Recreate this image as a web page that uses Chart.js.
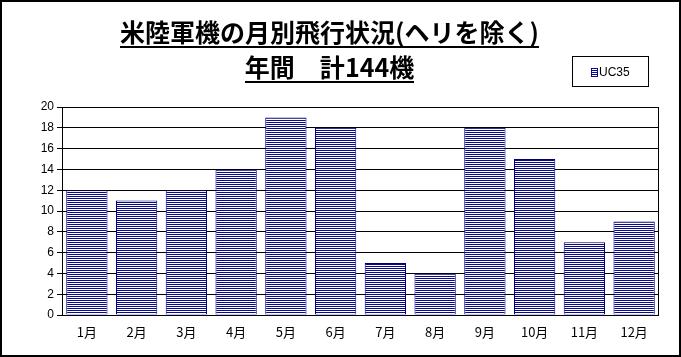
<!DOCTYPE html>
<html><head><meta charset="utf-8">
<script src="https://cdn.jsdelivr.net/npm/chart.js@4/dist/chart.umd.min.js"></script>
<style>html,body{margin:0;padding:0;background:#fff;}#wrap{width:681px;height:357px;}</style>
</head><body><div id="wrap"><canvas id="c" width="681" height="357"></canvas></div>
<script>
const categories = ['1月','2月','3月','4月','5月','6月','7月','8月','9月','10月','11月','12月'];
const seriesName = 'UC35';
const uc35 = [12, 11, 12, 14, 19, 18, 5, 4, 18, 15, 7, 9];
const titleLines = ['米陸軍機の月別飛行状況(ヘリを除く)', '年間　計144機'];
const yTicks = [0, 2, 4, 6, 8, 10, 12, 14, 16, 18, 20];

function stripes(){
  const p = document.createElement('canvas'); p.width = 2; p.height = 2;
  const g = p.getContext('2d');
  g.fillStyle = '#ffffff'; g.fillRect(0,0,2,2);
  g.fillStyle = '#0a0a90'; g.fillRect(0,0,2,1);
  return g.createPattern(p, 'repeat');
}
const pat = stripes();
const TITLE_FONT = {family: '"Noto Sans CJK JP", sans-serif', size: 25, weight: 'bold', lineHeight: 1.4};

const decor = {
  id: 'decor',
  afterDraw(chart){
    const ctx = chart.ctx, a = chart.chartArea;
    ctx.save();
    ctx.strokeStyle = '#000'; ctx.lineWidth = 1;
    ctx.strokeRect(Math.round(a.left)+0.5, Math.round(a.top)+0.5, Math.round(a.right-a.left)-1, Math.round(a.bottom-a.top));
    const tb = chart.titleBlock;
    const fs = TITLE_FONT.size, lh = fs*TITLE_FONT.lineHeight;
    ctx.font = 'bold ' + fs + 'px ' + TITLE_FONT.family;
    const cx = (tb.left + tb.right)/2;
    ctx.fillStyle = '#000';
    titleLines.forEach((t,i)=>{
      const w = ctx.measureText(t).width;
      const y = tb.top + tb.options.padding.top + lh/2 + i*lh + fs*0.55;
      ctx.fillRect(Math.round(cx - w/2), Math.round(y), Math.round(w), 2);
    });
    ctx.lineWidth = 1; ctx.strokeStyle = '#000';
    ctx.strokeRect(572.5, 56.5, 76, 30);
    ctx.fillStyle = pat; ctx.fillRect(592, 69, 5, 7);
    ctx.strokeStyle = '#0a0a90'; ctx.strokeRect(591.5, 68.5, 6, 8);
    ctx.fillStyle = '#000'; ctx.font = '12px "Liberation Sans", sans-serif';
    ctx.textBaseline = 'middle'; ctx.textAlign = 'left';
    ctx.fillText(seriesName, 599, 73);
    ctx.lineWidth = 2; ctx.strokeStyle = '#000';
    ctx.strokeRect(1, 1, 679, 355);
    ctx.restore();
  }
};

new Chart(document.getElementById('c'), {
  type: 'bar',
  data: { labels: categories, datasets: [{ label: seriesName, data: uc35, backgroundColor: pat,
    borderColor: '#000070', borderWidth: 1, barPercentage: 0.83, categoryPercentage: 1 }] },
  options: {
    responsive: false, animation: false, devicePixelRatio: 1,
    layout: { padding: { left: 0, right: 22, top: 0, bottom: 0 } },
    plugins: {
      legend: { display: false }, tooltip: { enabled: false },
      title: { display: true, text: titleLines, color: '#000', font: TITLE_FONT, padding: { top: 15, bottom: 22 } }
    },
    scales: {
      x: { grid: { display: false, drawTicks: false }, border: { display: false },
        ticks: { color: '#000', padding: 9, font: { family: '"Noto Sans CJK JP", sans-serif', size: 13 } },
        afterFit(s){ s.height = 42; } },
      y: { min: 0, max: 20, afterBuildTicks(s){ s.ticks = yTicks.map(v=>({value:v})); },
        grid: { color: '#000', lineWidth: 1, tickLength: 5 }, border: { color: '#000' },
        ticks: { color: '#000', padding: 3, font: { family: '"Liberation Sans", sans-serif', size: 12 } },
        afterFit(s){ s.width = 62; } }
    }
  },
  plugins: [decor]
});
</script></body></html>
